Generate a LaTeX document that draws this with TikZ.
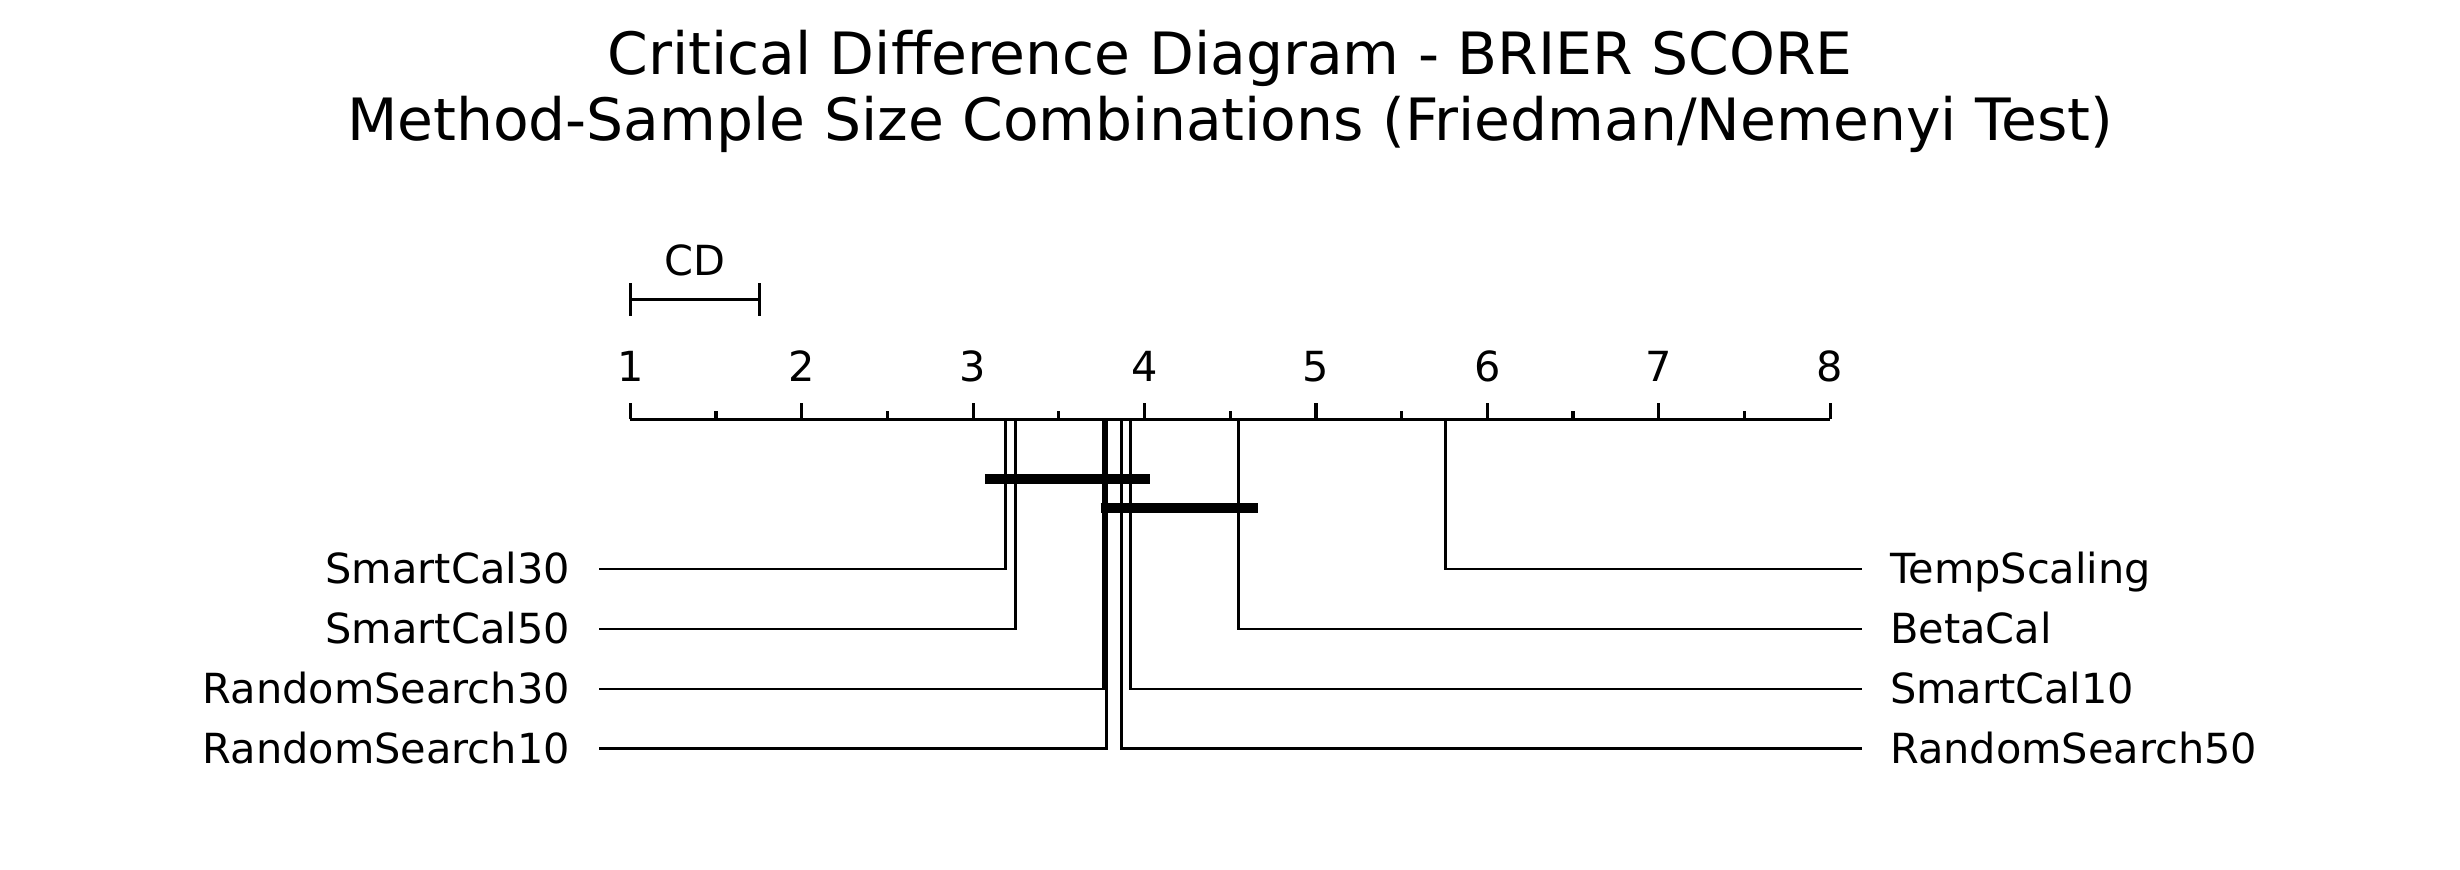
\documentclass[tikz,border=0pt]{standalone}
\usepackage{fontspec}
\setmainfont{DejaVu Sans}
\usepackage{tikz}

\begin{document}
\begin{tikzpicture}[line width=0.9pt,
		rankline/.style={line width=0.8pt},
		clique/.style={line width=2.85pt},
		lbl/.style={inner sep=0pt, font=\fontsize{11.8}{14}\selectfont},
		titlelbl/.style={inner sep=0pt, anchor=base, font=\fontsize{16.6}{20}\selectfont}]
		\useasboundingbox (0,0) rectangle (24.6,-8.69);
		\node[titlelbl] (title) at (12.3,-0.75) {Critical Difference Diagram - BRIER SCORE};
		\node[titlelbl] (subtitle) at (12.3,-1.41) {Method-Sample Size Combinations (Friedman/Nemenyi Test)};
		
		\begin{scope}[x=1.714cm, xshift=4.589cm]
		% axis with ticks
		\draw (1,-4.193) -- (8,-4.193);
		\foreach \r in {1,...,8} {
			\draw (\r,-4.193) -- (\r,-4.033);
			\node[lbl, anchor=base] (tick\r) at (\r,-3.81) {\r};
		}
		\foreach \r in {1.5,2.5,...,7.5}
			\draw (\r,-4.193) -- (\r,-4.11);
		
		% critical difference
		\draw (1,-2.83) -- (1,-3.157);
		\draw (1.755,-2.83) -- (1.755,-3.157);
		\draw (1,-2.997) -- (1.755,-2.997);
		\node[lbl, anchor=base] (cd) at (1.3775,-2.75) {CD};
		
		% methods on the left
		\foreach \rk/\row/\txt/\id in {3.190/5.69/SmartCal30/sca, 3.246/6.29/SmartCal50/scb, 3.762/6.89/RandomSearch30/rsa, 3.779/7.485/RandomSearch10/rsb} {
			\coordinate (\id top) at (\rk,-4.193);
			\coordinate (\id end) at (0.819,-\row);
			\node[lbl, anchor=base east] (\id) at (0.656,-\row-0.145) {\txt};
			\draw[rankline] (\id top) |- (\id end);
		}
		
		% methods on the right
		\foreach \rk/\row/\txt/\id in {5.757/5.69/TempScaling/ts, 4.547/6.29/BetaCal/bc, 3.917/6.89/SmartCal10/scc, 3.865/7.485/RandomSearch50/rsc} {
			\coordinate (\id top) at (\rk,-4.193);
			\coordinate (\id end) at (8.184,-\row);
			\node[lbl, anchor=base west] (\id) at (8.341,-\row-0.145) {\txt};
			\draw[rankline] (\id top) |- (\id end);
		}
		
		% cliques
		\draw[clique] (3.068,-4.787) -- (4.032,-4.787);
		\draw[clique] (3.744,-5.083) -- (4.662,-5.083);
		\end{scope}
	\end{tikzpicture}
\end{document}
